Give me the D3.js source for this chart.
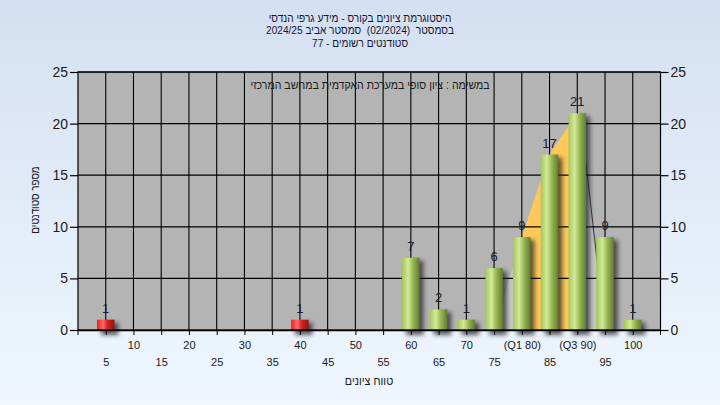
<!DOCTYPE html>
<html><head><meta charset="utf-8">
<script src="https://cdn.jsdelivr.net/npm/d3@7"></script>
<style>
html,body{margin:0;padding:0;}
svg{display:block;font-family:"Liberation Sans","DejaVu Sans",Arial,sans-serif;}
text{white-space:pre;}
</style></head>
<body>
<svg id="chart" width="720" height="405"></svg>
<script>
// ---- data ----
const categories = [5,10,15,20,25,30,35,40,45,50,55,60,65,70,75,80,85,90,95,100];
const counts     = [1,0,0,0,0,0,0,1,0,0,0,7,2,1,6,9,17,21,9,1];
const tickLabels = ["5","10","15","20","25","30","35","40","45","50","55","60","65","70","75","(Q1 80)","85","(Q3 90)","95","100"];
const yTicks = [0,5,10,15,20,25];
const failBelow = 55;
const q1 = 80, q3 = 90;
const curveCats = [75,80,85,90,95];
const curveVals = [0,9,17,21,0];
const titleLines = ["היסטוגרמת ציונים בקורס - מידע גרפי הנדסי","בסמסטר  (02/2024)  סמסטר אביב 2024/25","סטודנטים רשומים - 77"];
const subTitle = "במשימה : ציון סופי במערכת האקדמית במחשב המרכזי";
const xTitle = "טווח ציונים";
const yTitle = "מספר סטודנטים";

// ---- layout ----
const W = 720, H = 405;
const L = 78, R = 660.5, T = 72, B = 330;
const svg = d3.select("#chart");
const defs = svg.append("defs");

const bg = defs.append("linearGradient").attr("id","bg").attr("x1",0).attr("y1",0).attr("x2",0).attr("y2",1);
bg.append("stop").attr("offset","0%").attr("stop-color","#d4e0f1");
bg.append("stop").attr("offset","100%").attr("stop-color","#eff6fe");

function barGrad(id, c0, c1, c2, c3){
  const g = defs.append("linearGradient").attr("id",id).attr("x1",0).attr("y1",0).attr("x2",1).attr("y2",0);
  g.append("stop").attr("offset","0%").attr("stop-color",c0);
  g.append("stop").attr("offset","35%").attr("stop-color",c1);
  g.append("stop").attr("offset","60%").attr("stop-color",c2);
  g.append("stop").attr("offset","100%").attr("stop-color",c3);
}
barGrad("gGreen","#a6c65a","#d2ea9a","#9dbb55","#5e7c30");
barGrad("gRed","#ee1c1c","#ff6a6a","#d82020","#941010");
defs.append("filter").attr("id","shadow").attr("x","-50%").attr("y","-50%").attr("width","200%").attr("height","200%")
  .append("feGaussianBlur").attr("stdDeviation",2);

svg.append("rect").attr("width",W).attr("height",H).attr("fill","url(#bg)");

const x = d3.scalePoint().domain(categories).range([L,R]).padding(1);
const y = d3.scaleLinear().domain([0,25]).range([B,T]);
const bw = 17.5;

// plot background
svg.append("rect").attr("x",L).attr("y",T).attr("width",R-L).attr("height",B-T).attr("fill","#b4b4b4");

// curve area (light) + orange Q1-Q3 portion
const pts = curveCats.map((c,i)=>[x(c), y(curveVals[i])]);
const area = d3.area().x(d=>d[0]).y0(y(0)).y1(d=>d[1]);
svg.append("path").attr("d",area(pts)).attr("fill","#c6c6c6");
defs.append("clipPath").attr("id","qClip").append("rect")
  .attr("x",x(q1)).attr("y",T).attr("width",x(q3)-x(q1)).attr("height",B-T);
svg.append("path").attr("d",area(pts)).attr("fill","#ffc95a").attr("clip-path","url(#qClip)");
svg.append("line").attr("x1",pts[3][0]+3).attr("y1",pts[3][1]).attr("x2",pts[4][0]).attr("y2",pts[4][1])
  .attr("stroke","#3a3a3a").attr("stroke-width",1);

// grid
svg.append("g").selectAll("line").data(categories).join("line")
  .attr("x1",d=>x(d)).attr("x2",d=>x(d)).attr("y1",T).attr("y2",B)
  .attr("stroke","#000").attr("stroke-width",1.1);
svg.append("g").selectAll("line").data(yTicks.filter(v=>v>0)).join("line")
  .attr("x1",L).attr("x2",R).attr("y1",d=>y(d)).attr("y2",d=>y(d))
  .attr("stroke","#000").attr("stroke-width",1.2);

// bars
const barData = categories.map((c,i)=>({c, v:counts[i]})).filter(d=>d.v>0);
svg.append("g").selectAll("rect").data(barData).join("rect")
  .attr("x",d=>x(d.c)-bw/2+4).attr("y",d=>y(d.v)+3).attr("width",bw).attr("height",d=>y(0)-y(d.v)+2)
  .attr("fill","#222").attr("opacity",0.7).attr("filter","url(#shadow)");
svg.append("g").selectAll("rect").data(barData).join("rect")
  .attr("x",d=>x(d.c)-bw/2).attr("y",d=>y(d.v)).attr("width",bw).attr("height",d=>y(0)-y(d.v))
  .attr("fill",d=>d.c<failBelow?"url(#gRed)":"url(#gGreen)");

// value labels
svg.append("g").selectAll("text").data(barData).join("text")
  .attr("x",d=>x(d.c)).attr("y",d=>y(d.v)-7).attr("text-anchor","middle")
  .attr("font-size",13).attr("fill","#1c1c30").text(d=>d.v);

// borders
svg.append("rect").attr("x",L).attr("y",T).attr("width",R-L).attr("height",B-T)
  .attr("fill","none").attr("stroke","#000").attr("stroke-width",1.2);

// axes
const yl = svg.append("g").attr("transform",`translate(${L},0)`)
  .call(d3.axisLeft(y).tickValues(yTicks).tickSize(8).tickPadding(2));
const yr = svg.append("g").attr("transform",`translate(${R},0)`)
  .call(d3.axisRight(y).tickValues(yTicks).tickSize(8).tickPadding(2));
[yl,yr].forEach(g=>{
  g.select(".domain").remove();
  g.selectAll("line").attr("stroke","#000").attr("stroke-width",1.2);
  g.selectAll("text").attr("font-size",14).attr("fill","#1a1a1a").attr("font-family",null);
});
const xa = svg.append("g").attr("transform",`translate(0,${B})`)
  .call(d3.axisBottom(x).tickSize(5).tickFormat((d,i)=>tickLabels[i]));
xa.select(".domain").attr("stroke","#000").attr("stroke-width",1.5).attr("d",`M${L},0.5H${R}`);
xa.selectAll("line").attr("stroke","#000");
xa.selectAll("text").attr("font-size",11).attr("fill","#1a1a1a").attr("font-family",null)
  .attr("y",(d,i)=> i%2===0 ? 32 : 15.5).attr("dy","0.35em");
// edge ticks
svg.append("g").selectAll("line").data([L,R]).join("line")
  .attr("x1",d=>d).attr("x2",d=>d).attr("y1",B).attr("y2",B+5).attr("stroke","#000");

// titles (condensed like the reference)
svg.append("g").selectAll("text").data(titleLines).join("text")
  .attr("transform",(d,i)=>`translate(360,${21.5+i*12.5}) scale(0.88,1)`)
  .attr("text-anchor","middle").attr("direction","rtl")
  .attr("font-size",11.5).attr("fill","#14143a").text(d=>d);
svg.append("text").attr("transform","translate(370,89) scale(0.88,1)").attr("text-anchor","middle").attr("direction","rtl")
  .attr("font-size",12).attr("fill","#1a1a1a").text(subTitle);
svg.append("text").attr("transform","translate(369,385) scale(0.9,1)").attr("text-anchor","middle").attr("direction","rtl")
  .attr("font-size",12).attr("fill","#1a1a2a").text(xTitle);
svg.append("text").attr("transform","translate(39,200) rotate(-90) scale(0.82,1)").attr("text-anchor","middle").attr("direction","rtl")
  .attr("font-size",12).attr("fill","#1a1a2a").text(yTitle);
</script>
</body></html>
